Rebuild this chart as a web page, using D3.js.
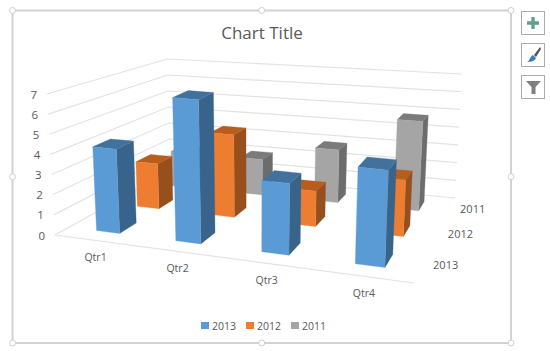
<!DOCTYPE html>
<html><head><meta charset="utf-8">
<script src="https://cdn.jsdelivr.net/npm/d3@7/dist/d3.min.js"></script>
<style>html,body{margin:0;padding:0;background:#fff}svg{display:block}text{font-family:"Open Sans",sans-serif}</style>
</head><body><svg id="c" width="550" height="351"></svg>
<script>
const categories = ["Qtr1","Qtr2","Qtr3","Qtr4"];
const seriesNames = ["2013","2012","2011"];
const values2013 = [4.2,7,3.4,4.5];
const values2012 = [2.4,4.3,1.8,2.8];
const values2011 = [2,2,2.9,4.8];
const valueTicks = [0,1,2,3,4,5,6,7];
const palette = {
  "2013":{front:"#5B9BD5",side:"#38648B",top:"#41719C"},
  "2012":{front:"#ED7D31",side:"#964F1D",top:"#B85D1E"},
  "2011":{front:"#A5A5A5",side:"#6C6C6C",top:"#7B7B7B"}
};
const seriesValues = {"2013":values2013,"2012":values2012,"2011":values2011};

// Projection of the 3-D box on to the page
function quadMap(q){ // unit square -> quad (order: (0,0),(1,0),(1,1),(0,1))
  const [[x0,y0],[x1,y1],[x2,y2],[x3,y3]] = q;
  const dx1=x1-x2,dx2=x3-x2,sx=x0-x1+x2-x3,dy1=y1-y2,dy2=y3-y2,sy=y0-y1+y2-y3;
  const det=dx1*dy2-dx2*dy1;
  const g=(sx*dy2-dx2*sy)/det,h=(dx1*sy-sx*dy1)/det;
  const a=x1-x0+g*x1,b=x3-x0+h*x3,c=x0,d=y1-y0+g*y1,e=y3-y0+h*y3,f=y0;
  return (u,v)=>{const w=g*u+h*v+1;return [(a*u+b*v+c)/w,(d*u+e*v+f)/w];};
}
const floorMap = quadMap([[55,235],[414,283],[455,198],[170,171]]);
const boxHeight = (u,v)=>(141*(1-u)+156*u)*(1-v)+(112*(1-u)+124*u)*v; // px for the full 0-7 range
const lean = d3.scaleLinear().domain([55,455]).range([-0.057,0.057]); // dx per px of height
const zScale = d3.scaleLinear().domain([0,7]).range([0,1]);
const xBand = d3.scaleBand().domain(categories).range([0.003,1.003]).paddingInner(0.7).paddingOuter(0.35);
const dBand = d3.scaleBand().domain(seriesNames).range([0,1]).paddingInner(0.6).paddingOuter(0.3);
const xCenter = d3.scalePoint().domain(categories).range([0,1]).padding(0.5);
const dCenter = d3.scalePoint().domain(seriesNames).range([0,1]).padding(0.5);
function P(u,v,val){
  const a=floorMap(u,v),h=boxHeight(u,v)*zScale(val);
  return [a[0]+lean(a[0])*h,a[1]-h];
}
const line = d3.line();
const svg = d3.select("#c");
const grid="#E3E3E3", ink="#595959";

// Selection frame
const frame = {l:12.5,t:10.5,r:511,b:343};
svg.append("rect").attr("x",frame.l).attr("y",frame.t).attr("width",frame.r-frame.l).attr("height",frame.b-frame.t)
  .attr("fill","#fff").attr("stroke","#D2D2D2").attr("stroke-width",2);
const midX=(frame.l+frame.r)/2, midY=(frame.t+frame.b)/2;
[[frame.l,frame.t],[midX,frame.t],[frame.r,frame.t],[frame.l,midY],[frame.r,midY],[frame.l,frame.b],[midX,frame.b],[frame.r,frame.b]]
 .forEach(p=>svg.append("circle").attr("cx",p[0]).attr("cy",p[1]).attr("r",3).attr("fill","#fff").attr("stroke","#CFCFCF").attr("stroke-width",1));

// Walls and floor
const gridG=svg.append("g").attr("fill","none").attr("stroke",grid).attr("stroke-width",1.2);
valueTicks.forEach(t=>{
  gridG.append("path").attr("d",line([P(0,0,t),P(0,1,t),P(1,1,t)]));
});
gridG.append("path").attr("d",line([P(0,0,0),P(1,0,0)]));

// Bars, back row first, left to right in each row
const bars=svg.append("g");
[...seriesNames].reverse().forEach(s=>{
  categories.forEach((c,i)=>{
    const v=seriesValues[s][i], col=palette[s];
    const u0=xBand(c),u1=u0+xBand.bandwidth(),d0=dBand(s),d1=d0+dBand.bandwidth();
    const g=bars.append("g");
    const face=(pts,fill)=>g.append("path").attr("d",line(pts)+"Z").attr("fill",fill).attr("stroke",fill).attr("stroke-width",0.3);
    face([P(u1,d0,0),P(u1,d1,0),P(u1,d1,v),P(u1,d0,v)],col.side);
    face([P(u0,d0,v),P(u1,d0,v),P(u1,d1,v),P(u0,d1,v)],col.top);
    face([P(u0,d0,0),P(u1,d0,0),P(u1,d0,v),P(u0,d0,v)],col.front);
  });
});

// Axis labels
const label=(x,y,t,size,anchor)=>svg.append("text").attr("x",x).attr("y",y).attr("text-anchor",anchor||"middle")
  .attr("dominant-baseline","central").attr("font-size",size).attr("fill",ink).text(t);
valueTicks.forEach(t=>{const p=P(0,0,t);label(p[0]-10,p[1],String(t),11.5,"end");});
categories.forEach(c=>{const p=P(xCenter(c),0,0);label(p[0]+2,p[1]+17,c,10.5);});
seriesNames.forEach(s=>{const p=P(1,dCenter(s),0);label(p[0]+23,p[1]-1,s,11);});
label(262,32,"Chart Title",17);

// Legend
const legendX=d3.scalePoint().domain(seriesNames).range([201,291]);
seriesNames.forEach(s=>{
  const x=legendX(s);
  svg.append("rect").attr("x",x).attr("y",322).attr("width",8).attr("height",7).attr("fill",palette[s].front);
  label(x+11,325.5,s,10.5,"start");
});

// Side buttons
[[521,11],[521,43],[521,75]].forEach(b=>svg.append("rect").attr("x",b[0]+.5).attr("y",b[1]+.5).attr("width",23).attr("height",23).attr("fill","#fff").attr("stroke","#ABABAB"));
svg.append("path").attr("d","M533 17V29M527 23H539").attr("stroke","#5FA08E").attr("stroke-width",3.4).attr("fill","none");
svg.append("path").attr("d","M534 55L540 47L541 49L536 57Z").attr("fill","#555");
svg.append("path").attr("d","M527 62C530 61 530 56 533 55L536 58C535 61 531 62 527 62Z").attr("fill","#3F7DB8");
svg.append("path").attr("d","M526 81H541L535.5 87V94H531.5V87Z").attr("fill","#7F7F7F");
</script></body></html>
